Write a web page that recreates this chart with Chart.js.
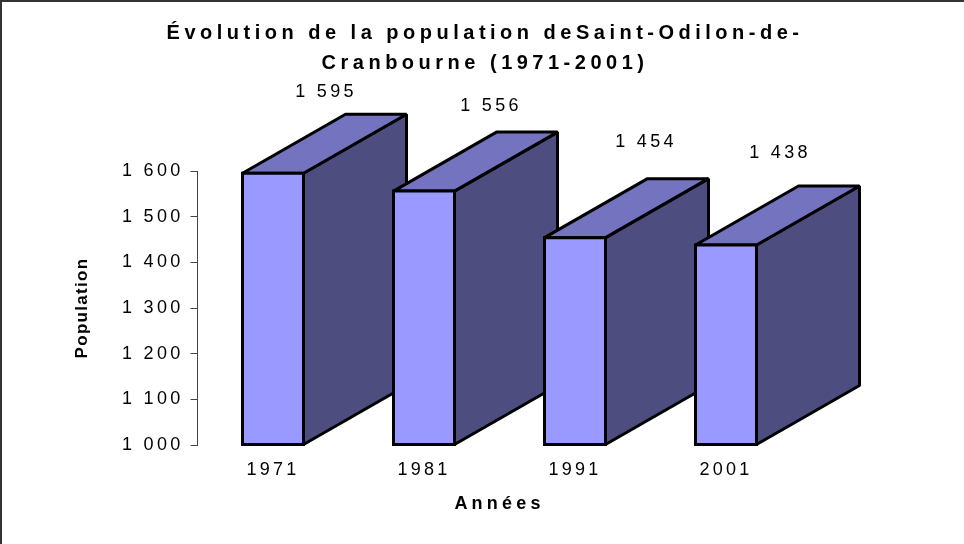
<!DOCTYPE html>
<html><head><meta charset="utf-8">
<style>html,body{margin:0;padding:0;background:#fff}canvas{display:block}</style>
<script src="https://cdn.jsdelivr.net/npm/chart.js@4/dist/chart.umd.js"></script>
</head><body><canvas id="c" width="964" height="544"></canvas>
<script>
const years = ['1971','1981','1991','2001'];
const population = [1595,1556,1454,1438];
const tickValues = [1000,1100,1200,1300,1400,1500,1600];
const titleLines = ['Évolution de la population deSaint-Odilon-de-','Cranbourne (1971-2001)'];
const axisMin = 1000, axisMax = 1600;

const DEPTH_X = 103, DEPTH_Y = 59, LW = 3;
const FRONT='#9999FF', TOP='#7373BF', SIDE='#4D4D80';
const labelShift = [[53,-81],[67,-85],[71,-96],[54,-92]];
const FONT='"Liberation Sans", Arial, sans-serif';
const fmt = v => String(v).replace(/\B(?=(\d{3})+$)/g,' ');

class Bar3D extends Chart.BarElement {
  draw(ctx){
    const {x,y,base,width}=this.getProps(['x','y','base','width'],true);
    const l=x-width/2, r=x+width/2;
    ctx.save();
    ctx.lineWidth=LW; ctx.strokeStyle='#000';
    const poly=(pts,fill,join)=>{ctx.lineJoin=join;ctx.beginPath();pts.forEach((p,i)=>i?ctx.lineTo(p[0],p[1]):ctx.moveTo(p[0],p[1]));ctx.closePath();ctx.fillStyle=fill;ctx.fill();ctx.stroke();};
    poly([[r,y],[r+DEPTH_X,y-DEPTH_Y],[r+DEPTH_X,base-DEPTH_Y],[r,base]],SIDE,'bevel');
    poly([[l,y],[l+DEPTH_X,y-DEPTH_Y],[r+DEPTH_X,y-DEPTH_Y],[r,y]],TOP,'bevel');
    poly([[l,y],[r,y],[r,base],[l,base]],FRONT,'miter');
    ctx.restore();
  }
}
Bar3D.id='bar3d';
class Bar3DController extends Chart.BarController {}
Bar3DController.id='bar3dctl';
Bar3DController.overrides=Chart.BarController.overrides;
Bar3DController.defaults=Object.assign({},Chart.BarController.defaults,{dataElementType:'bar3d'});
Chart.register(Bar3D,Bar3DController);

const spacing = f => /bold 20px/.test(f)?4.5:/bold 18px/.test(f)?4.2:/bold 17px/.test(f)?1.3:/18px/.test(f)?3.3:0;
const spacingPlugin={id:'spacing',beforeInit(chart){
  const ctx=chart.ctx, orig=ctx.fillText.bind(ctx);
  ctx.fillText=function(t,x,y,m){ctx.letterSpacing=spacing(ctx.font)+'px'; if(m===undefined)orig(t,x,y);else orig(t,x,y,m); ctx.letterSpacing='0px';};
}};
const framePlugin={id:'frame',beforeDraw(chart){
  const c=chart.ctx;c.save();c.fillStyle='#fff';c.fillRect(0,0,chart.width,chart.height);
  c.strokeStyle='#333';c.lineWidth=2;c.strokeRect(1,1,chart.width+4,chart.height+4);c.restore();
}};
const valuePlugin={id:'values',afterDatasetsDraw(chart){
  const c=chart.ctx,meta=chart.getDatasetMeta(0);
  c.save();c.font='18px '+FONT;c.fillStyle='#000';c.textAlign='center';c.textBaseline='middle';
  meta.data.forEach((el,i)=>c.fillText(fmt(population[i]),el.x+labelShift[i][0],el.y+labelShift[i][1]));
  c.restore();
}};

new Chart(document.getElementById('c'),{
  type:'bar3dctl',
  data:{labels:years,datasets:[{data:population,base:axisMin,backgroundColor:FRONT,borderColor:'#000',borderWidth:LW,barPercentage:0.404,categoryPercentage:1,clip:false}]},
  plugins:[spacingPlugin,framePlugin,valuePlugin],
  options:{
    responsive:false,animation:false,
    layout:{padding:{left:6,right:0,top:0,bottom:0}},
    plugins:{
      legend:{display:false},tooltip:{enabled:false},
      title:{display:true,text:titleLines,color:'#000',font:{family:FONT,size:20,weight:'bold',lineHeight:30/20},padding:{top:18,bottom:93}}
    },
    scales:{
      x:{grid:{display:false},border:{display:false},
         ticks:{color:'#000',font:{family:FONT,size:18},padding:6,maxRotation:0},
         title:{display:true,text:'Années',color:'#000',font:{family:FONT,size:18,weight:'bold'},padding:{top:0,bottom:29}},
         afterFit(s){s.height=99;}},
      y:{min:axisMin,max:axisMax,
         grid:{drawOnChartArea:false,drawTicks:true,tickLength:7,color:'#444'},
         border:{display:true,color:'#444',width:1},
         afterBuildTicks(s){s.ticks=tickValues.map(v=>({value:v}));},
         ticks:{color:'#000',font:{family:FONT,size:18},padding:7,callback:fmt},
         title:{display:true,text:'Population',color:'#000',font:{family:FONT,size:17,weight:'bold'},padding:{top:66,bottom:0}},
         afterFit(s){s.width=191.5;}},
      y2:{position:'right',min:axisMin,max:axisMax,display:true,grid:{display:false},border:{display:false},ticks:{display:false},afterFit(s){s.width=162.5;}}
    }
  }
});
</script></body></html>
